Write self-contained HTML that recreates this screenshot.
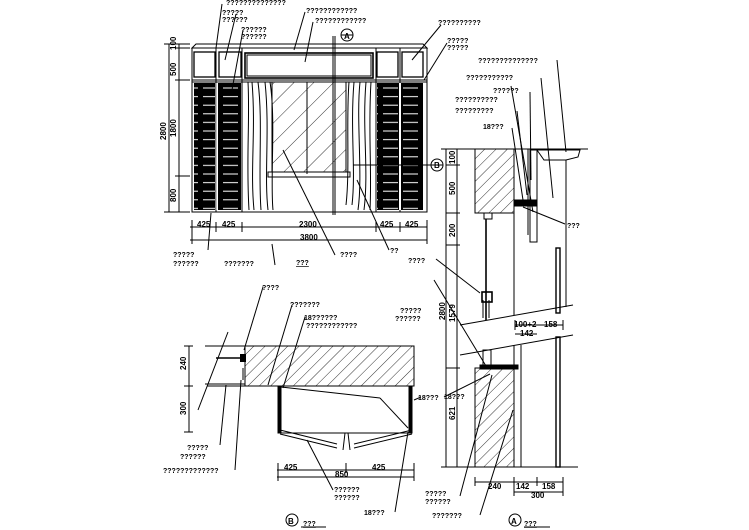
<!DOCTYPE html>
<html><head><meta charset="utf-8"><style>
html,body{margin:0;padding:0;background:#fff}
svg{display:block}
text{font-family:"Liberation Sans",sans-serif;font-size:7px;font-weight:bold;fill:#000}
.v{font-size:8px}
</style></head><body>
<svg width="749" height="530" viewBox="0 0 749 530" xmlns="http://www.w3.org/2000/svg">
<defs>
<pattern id="h" width="8" height="8" patternUnits="userSpaceOnUse" patternTransform="rotate(45)">
<line x1="0" y1="0" x2="0" y2="8" stroke="#000" stroke-width="0.8"/></pattern>
<pattern id="g" width="14" height="14" patternUnits="userSpaceOnUse" patternTransform="rotate(45)">
<line x1="0" y1="0" x2="0" y2="14" stroke="#000" stroke-width="0.8"/></pattern>
<pattern id="s" width="20" height="8.6" patternUnits="userSpaceOnUse" x="0" y="84">
<rect width="20" height="8.6" fill="#000"/><line x1="3" y1="4" x2="18" y2="4" stroke="#fff" stroke-width="1"/></pattern>
</defs>
<g stroke="#000" stroke-width="1" fill="none">
<!-- ELEVATION -->
<path d="M192,48 L196,44 L423,44 L427,48 Z"/>
<rect x="192" y="48" width="235" height="164"/>
<line x1="192" y1="80" x2="427" y2="80"/>
<line x1="192" y1="82" x2="427" y2="82"/>
<rect x="194" y="52" width="21" height="25" stroke-width="1.3"/>
<rect x="219" y="52" width="22" height="25" stroke-width="1.3"/>
<rect x="245" y="53" width="128" height="25" stroke-width="1.6"/>
<rect x="247" y="55" width="124" height="21"/>
<rect x="377" y="52" width="21" height="25" stroke-width="1.3"/>
<rect x="402" y="52" width="21" height="25" stroke-width="1.3"/>
<line x1="216" y1="48" x2="216" y2="212"/><line x1="242" y1="48" x2="242" y2="212"/>
<line x1="376" y1="48" x2="376" y2="212"/><line x1="400" y1="48" x2="400" y2="212"/>
<rect x="194" y="83" width="21" height="127" fill="url(#s)" stroke="none"/>
<rect x="218" y="83" width="23" height="127" fill="url(#s)" stroke="none"/>
<rect x="377" y="83" width="22" height="127" fill="url(#s)" stroke="none"/>
<rect x="401" y="83" width="22" height="127" fill="url(#s)" stroke="none"/>
<line x1="217" y1="83" x2="217" y2="210" stroke="#fff" stroke-width="1.5"/>
<line x1="400" y1="83" x2="400" y2="210" stroke="#fff" stroke-width="1.5"/>
<rect x="272" y="82" width="74" height="90" fill="url(#g)"/>
<line x1="307" y1="82" x2="307" y2="174"/>
<rect x="268" y="172" width="82" height="5"/>
<!-- curtains -->
<path d="M248,82 C250,120 246,160 249,210 M252,82 C256,130 250,170 254,210 M258,82 C263,120 258,170 261,210 M265,82 C270,130 264,175 268,210 M270,82 C276,120 270,180 273,210"/>
<path d="M349,82 C346,120 350,170 346,205 M354,82 C350,130 356,170 352,205 M360,82 C356,120 363,175 358,210 M366,82 C362,130 369,170 364,210 M371,82 C368,130 372,170 370,210"/>
<line x1="333" y1="36" x2="333" y2="215"/><line x1="335" y1="36" x2="335" y2="215"/>
<line x1="353" y1="165" x2="440" y2="165"/>
<circle cx="347" cy="35" r="6"/><line x1="341" y1="35" x2="353" y2="35"/>
<circle cx="437" cy="165" r="6"/><line x1="431" y1="165" x2="443" y2="165"/>
<!-- elev dims -->
<line x1="169" y1="44" x2="169" y2="212"/><line x1="179" y1="44" x2="179" y2="212"/>
<line x1="164" y1="44" x2="190" y2="44"/><line x1="175" y1="48" x2="190" y2="48"/>
<line x1="175" y1="80" x2="190" y2="80"/><line x1="175" y1="176" x2="190" y2="176"/>
<line x1="164" y1="212" x2="190" y2="212"/>
<line x1="190" y1="227" x2="427" y2="227"/><line x1="190" y1="240" x2="427" y2="240"/>
<line x1="192" y1="220" x2="192" y2="244"/><line x1="216" y1="222" x2="216" y2="232"/>
<line x1="242" y1="222" x2="242" y2="232"/><line x1="376" y1="222" x2="376" y2="232"/>
<line x1="400" y1="222" x2="400" y2="232"/><line x1="427" y1="220" x2="427" y2="244"/>
<!-- leaders elev -->
<line x1="222" y1="4" x2="216" y2="48"/><line x1="236" y1="14" x2="225" y2="60"/>
<line x1="243" y1="30" x2="232" y2="90"/><line x1="305" y1="12" x2="294" y2="50"/>
<line x1="313" y1="22" x2="305" y2="62"/><line x1="441" y1="25" x2="412" y2="60"/>
<line x1="447" y1="43" x2="424" y2="80"/><line x1="211" y1="213" x2="208" y2="250"/>
<line x1="272" y1="244" x2="275" y2="265"/><line x1="283" y1="150" x2="335" y2="255"/>
<line x1="357" y1="180" x2="389" y2="250"/>
<!-- SECTION A -->
<line x1="446" y1="149" x2="446" y2="467"/><line x1="457" y1="149" x2="457" y2="467"/>
<line x1="441" y1="149" x2="588" y2="149"/>
<line x1="446" y1="165" x2="460" y2="165"/><line x1="446" y1="213" x2="460" y2="213"/>
<line x1="446" y1="245" x2="460" y2="245"/><line x1="446" y1="368" x2="460" y2="368"/>
<line x1="441" y1="467" x2="578" y2="467"/>
<rect x="475" y="149" width="39" height="64" fill="url(#h)"/>
<rect x="475" y="368" width="39" height="99" fill="url(#h)"/>
<line x1="514" y1="149" x2="514" y2="315"/><line x1="514" y1="345" x2="514" y2="467"/>
<line x1="521" y1="345" x2="521" y2="467"/>
<line x1="528" y1="149" x2="528" y2="235"/>
<rect x="530" y="150" width="7" height="92"/>
<path d="M537,150 L580,150 L578,157 L566,160 L544,160 Z"/>
<line x1="566" y1="160" x2="566" y2="307"/>
<rect x="556" y="248" width="4" height="65" stroke-width="1.4"/>
<rect x="556" y="337" width="4" height="130" stroke-width="1.4"/>
<rect x="514" y="200" width="23" height="6" fill="#000"/>
<rect x="484" y="213" width="8" height="6"/>
<line x1="486" y1="219" x2="486" y2="320" stroke-width="1.6"/>
<rect x="482" y="292" width="10" height="10" stroke-width="1.6"/>
<line x1="483" y1="300" x2="483" y2="318"/><line x1="489" y1="300" x2="489" y2="318"/>
<line x1="460" y1="325" x2="573" y2="305"/><line x1="460" y1="355" x2="573" y2="335"/>
<rect x="483" y="350" width="8" height="17"/>
<rect x="480" y="365" width="38" height="4" fill="#000"/>
<line x1="515" y1="325" x2="563" y2="325"/><line x1="515" y1="320" x2="515" y2="330"/>
<line x1="563" y1="320" x2="563" y2="330"/>
<line x1="515" y1="334" x2="537" y2="334"/>
<line x1="475" y1="482" x2="563" y2="482"/><line x1="514" y1="492" x2="563" y2="492"/>
<line x1="475" y1="477" x2="475" y2="486"/><line x1="514" y1="477" x2="514" y2="496"/>
<line x1="537" y1="477" x2="537" y2="486"/><line x1="563" y1="477" x2="563" y2="496"/>
<line x1="511" y1="86" x2="533" y2="212"/><line x1="530" y1="92" x2="531" y2="180"/>
<line x1="541" y1="78" x2="553" y2="198"/><line x1="557" y1="60" x2="566" y2="152"/>
<line x1="517" y1="111" x2="527" y2="195"/><line x1="512" y1="128" x2="523" y2="200"/>
<line x1="523" y1="207" x2="565" y2="224"/>
<line x1="436" y1="259" x2="480" y2="293"/><line x1="434" y1="280" x2="486" y2="366"/>
<line x1="444" y1="397" x2="490" y2="374"/>
<line x1="460" y1="496" x2="492" y2="375"/><line x1="480" y1="515" x2="513" y2="410"/>
<circle cx="515" cy="520" r="6"/><line x1="524" y1="527" x2="550" y2="527"/>
<!-- PLAN B -->
<rect x="245" y="346" width="169" height="40" fill="url(#h)"/>
<line x1="205" y1="346" x2="245" y2="346"/><line x1="205" y1="384" x2="245" y2="384"/>
<line x1="207" y1="386" x2="245" y2="386"/>
<line x1="216" y1="358" x2="240" y2="358" stroke-width="1.5"/>
<rect x="240" y="354" width="6" height="8" fill="#000" stroke="none"/>
<line x1="243" y1="368" x2="243" y2="380"/>
<rect x="278" y="386" width="134" height="47"/>
<rect x="278" y="387" width="3" height="46" fill="#000"/>
<rect x="409" y="387" width="3" height="46" fill="#000"/>
<path d="M280,430 L337,444 M280,434 L337,448 M412,430 L354,444 M412,434 L354,448 M345,433 L343,450 M348,433 L350,450"/>
<line x1="281" y1="387" x2="380" y2="398"/><line x1="380" y1="398" x2="408" y2="428"/>
<line x1="184" y1="346" x2="193" y2="346"/><line x1="189" y1="346" x2="189" y2="432"/>
<line x1="184" y1="386" x2="193" y2="386"/><line x1="184" y1="432" x2="193" y2="432"/>
<line x1="277" y1="470" x2="414" y2="470"/><line x1="277" y1="477" x2="414" y2="477"/>
<line x1="278" y1="463" x2="278" y2="481"/><line x1="346" y1="463" x2="346" y2="473"/>
<line x1="414" y1="463" x2="414" y2="481"/>
<line x1="228" y1="332" x2="198" y2="410"/><line x1="263" y1="287" x2="244" y2="350"/>
<line x1="226" y1="385" x2="220" y2="445"/><line x1="241" y1="380" x2="235" y2="470"/>
<line x1="292" y1="305" x2="268" y2="385"/><line x1="305" y1="317" x2="283" y2="388"/>
<line x1="307" y1="440" x2="333" y2="490"/><line x1="408" y1="432" x2="395" y2="512"/>
<line x1="421" y1="397" x2="414" y2="400"/>
<circle cx="292" cy="520" r="6"/><line x1="301" y1="527" x2="326" y2="527"/>
</g>
<g>
<text x="226" y="5">??????????????</text>
<text x="222" y="15">?????</text><text x="222" y="22">??????</text>
<text x="241" y="32">??????</text><text x="241" y="39">??????</text>
<text x="306" y="13">????????????</text><text x="315" y="23">????????????</text>
<text x="438" y="25">??????????</text>
<text x="447" y="43">?????</text><text x="447" y="50">?????</text>
<text x="478" y="63">??????????????</text>
<text x="466" y="80">???????????</text>
<text x="493" y="93">??????</text>
<text x="455" y="102">??????????</text>
<text x="455" y="113">?????????</text>
<text x="483" y="129">18???</text>
<text x="567" y="228">???</text>
<text x="408" y="263">????</text>
<text x="340" y="257">????</text><text x="390" y="253">??</text>
<text x="173" y="257">?????</text><text x="173" y="266">??????</text>
<text x="224" y="266">???????</text>
<text x="296" y="265" style="text-decoration:underline">???</text>
<text x="197" y="227" class="v">425</text><text x="222" y="227" class="v">425</text>
<text x="299" y="227" class="v">2300</text><text x="380" y="227" class="v">425</text>
<text x="405" y="227" class="v">425</text><text x="300" y="240" class="v">3800</text>
<g class="v">
<text transform="translate(176,76) rotate(-90)" class="v">500</text>
<text transform="translate(176,50) rotate(-90)" class="v">100</text>
<text transform="translate(176,137) rotate(-90)" class="v">1800</text>
<text transform="translate(176,202) rotate(-90)" class="v">800</text>
<text transform="translate(166,140) rotate(-90)" class="v">2800</text>
<text transform="translate(455,164) rotate(-90)" class="v">100</text>
<text transform="translate(455,195) rotate(-90)" class="v">500</text>
<text transform="translate(455,237) rotate(-90)" class="v">200</text>
<text transform="translate(455,322) rotate(-90)" class="v">1579</text>
<text transform="translate(445,320) rotate(-90)" class="v">2800</text>
<text transform="translate(455,420) rotate(-90)" class="v">621</text>
<text transform="translate(186,370) rotate(-90)" class="v">240</text>
<text transform="translate(186,415) rotate(-90)" class="v">300</text>
</g>
<text x="514" y="327" class="v">100+2</text><text x="544" y="327" class="v">158</text>
<text x="520" y="336" class="v">142</text>
<text x="488" y="489" class="v">240</text><text x="516" y="489" class="v">142</text>
<text x="542" y="489" class="v">158</text><text x="531" y="498" class="v">300</text>
<text x="511" y="524" class="v">A</text>
<text x="524" y="526" style="text-decoration:underline">???</text>
<text x="425" y="496">?????</text><text x="425" y="504">??????</text>
<text x="432" y="518">???????</text>
<text x="444" y="399">18???</text>
<text x="262" y="290">????</text><text x="290" y="307">???????</text>
<text x="304" y="320">18??????</text><text x="306" y="328">????????????</text>
<text x="400" y="313">?????</text><text x="395" y="321">??????</text>
<text x="418" y="400">18???</text>
<text x="187" y="450">?????</text><text x="180" y="459">??????</text>
<text x="163" y="473">?????????????</text>
<text x="334" y="492">??????</text><text x="334" y="500">??????</text>
<text x="364" y="515">18???</text>
<text x="288" y="524" class="v">B</text>
<text x="303" y="526" style="text-decoration:underline">???</text>
<text x="284" y="470" class="v">425</text><text x="335" y="477" class="v">850</text>
<text x="372" y="470" class="v">425</text>
<text x="344" y="39" class="v">A</text><text x="434" y="168" class="v">B</text>
</g>
</svg>
</body></html>
